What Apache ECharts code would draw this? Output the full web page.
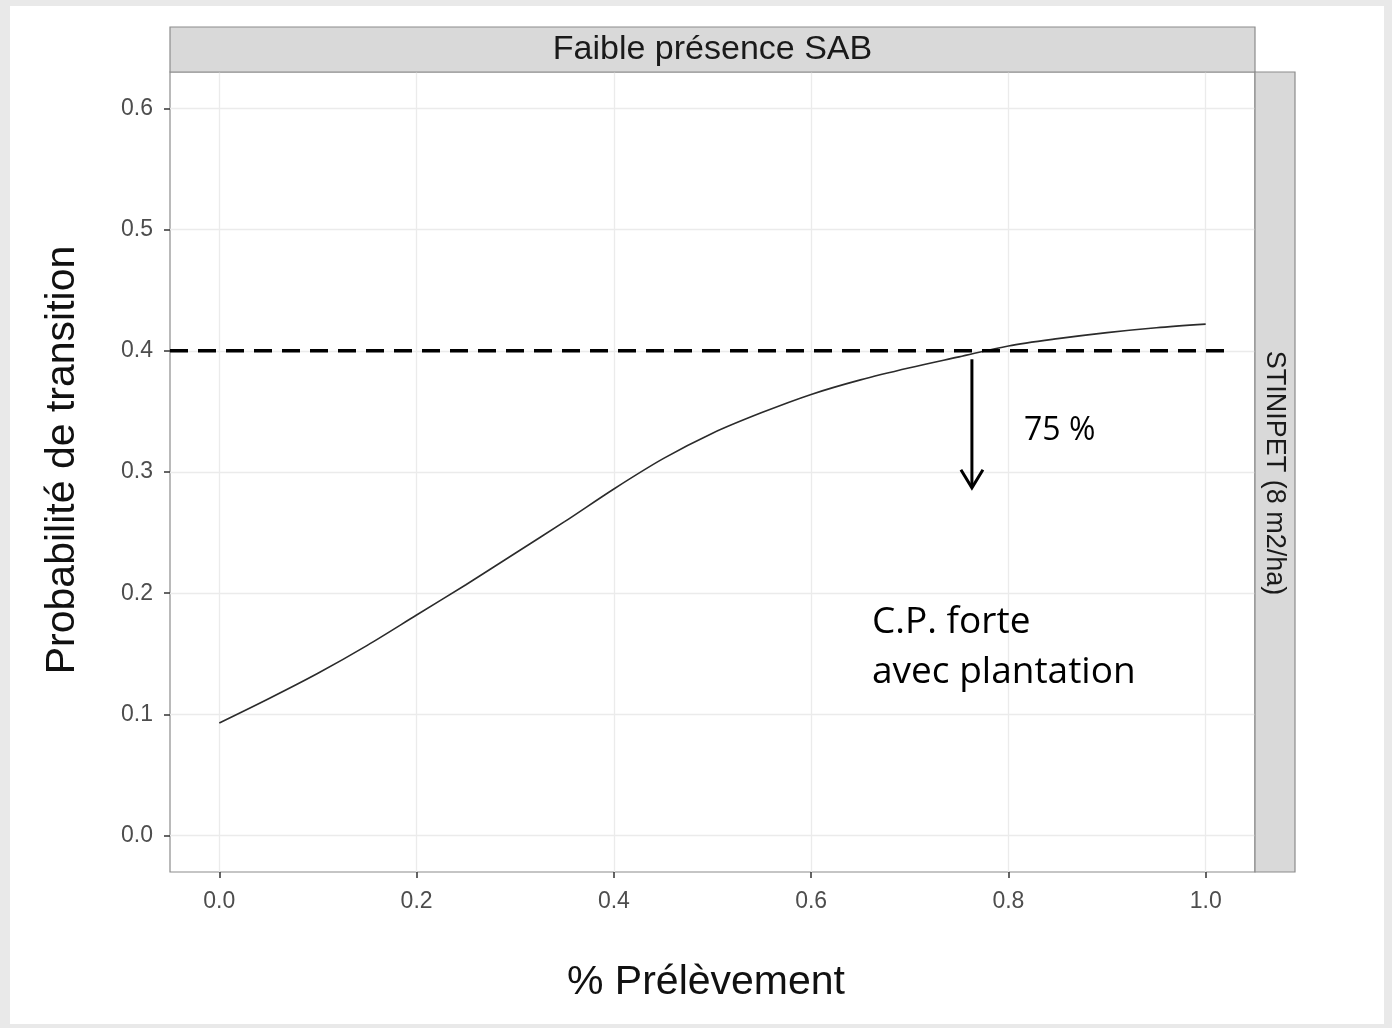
<!DOCTYPE html>
<html>
<head>
<meta charset="utf-8">
<title>Faible présence SAB</title>
<script src="https://cdn.jsdelivr.net/npm/echarts@6/dist/echarts.min.js"></script>
<style>
  html, body { margin: 0; padding: 0; background: #e9e9e9; }
  #chart { width: 1392px; height: 1028px; }
</style>
</head>
<body>
<div id="chart"></div>
<script>
// Harvest proportion (x) and modelled transition probability (y)
const harvestShare = [0.00, 0.05, 0.10, 0.15, 0.20, 0.25, 0.30, 0.35, 0.40, 0.45, 0.50,
                      0.55, 0.60, 0.65, 0.70, 0.75, 0.80, 0.85, 0.90, 0.95, 1.00];
const transitionProb = [0.093, 0.113, 0.134, 0.157, 0.182, 0.207, 0.233, 0.259, 0.286, 0.311, 0.332,
                        0.349, 0.364, 0.376, 0.386, 0.395, 0.404, 0.410, 0.415, 0.419, 0.422];

// Axis ticks
const xTickValues = [0.0, 0.2, 0.4, 0.6, 0.8, 1.0];
const yTickValues = [0.0, 0.1, 0.2, 0.3, 0.4, 0.5, 0.6];

// Threshold annotation
const thresholdLevel = 0.4;
const thresholdXRange = [-0.05, 1.019];
const crossingShare = 0.763;
const arrowFrom = 0.393;
const arrowTo = 0.287;

// Texts
const panelTitle = 'Faible présence SAB';
const rowTitle = 'STINIPET (8 m2/ha)';
const xTitle = '% Prélèvement';
const yTitle = 'Probabilité de transition';
const crossingLabel = '75 %';
const scenarioLabel = ['C.P. forte', 'avec plantation'];

const baseFont = 'Liberation Sans, Arial, sans-serif';
const noteFont = 'Open Sans, sans-serif';

const chart = echarts.init(document.getElementById('chart'));

const gridLeft = 170, gridTop = 72, gridW = 1085, gridH = 800;

chart.setOption({
  backgroundColor: '#e9e9e9',
  animation: false,
  grid: {
    left: gridLeft, top: gridTop, width: gridW, height: gridH,
    show: true, backgroundColor: '#ffffff',
    borderColor: '#8c8c8c', borderWidth: 1.2
  },
  xAxis: {
    type: 'value', min: -0.05, max: 1.05,
    axisLine: { show: false, onZero: false },
    splitLine: { show: false },
    axisTick: { show: true, customValues: xTickValues, length: 6, lineStyle: { color: '#333333', width: 1.5 } },
    axisLabel: {
      customValues: xTickValues, margin: 18,
      formatter: v => v.toFixed(1),
      color: '#4d4d4d', fontSize: 23, fontFamily: baseFont
    }
  },
  yAxis: {
    type: 'value', min: -0.03, max: 0.63,
    axisLine: { show: false, onZero: false },
    splitLine: { show: false },
    axisTick: { show: true, customValues: yTickValues, length: 6, lineStyle: { color: '#333333', width: 1.5 } },
    axisLabel: {
      customValues: yTickValues, margin: 17,
      formatter: v => v.toFixed(1),
      color: '#4d4d4d', fontSize: 23, fontFamily: baseFont
    }
  },
  graphic: [
    // page card
    { type: 'rect', z: -100, shape: { x: 10, y: 6, width: 1374, height: 1018 }, style: { fill: '#ffffff' } },
    // facet strips
    { type: 'rect', z: 10, shape: { x: gridLeft, y: 27, width: gridW, height: 45 },
      style: { fill: '#d9d9d9', stroke: '#8c8c8c', lineWidth: 1.2 } },
    { type: 'text', z: 11, x: gridLeft + gridW / 2, y: 50,
      style: { text: panelTitle, fill: '#1a1a1a', font: '34px ' + baseFont, align: 'center', verticalAlign: 'middle' } },
    { type: 'rect', z: 10, shape: { x: gridLeft + gridW, y: gridTop, width: 40, height: gridH },
      style: { fill: '#d9d9d9', stroke: '#8c8c8c', lineWidth: 1.2 } },
    { type: 'text', z: 11, x: gridLeft + gridW + 19, y: 473, rotation: -Math.PI / 2,
      style: { text: rowTitle, fill: '#1a1a1a', font: '27px ' + baseFont, align: 'center', verticalAlign: 'middle' } },
    // axis titles
    { type: 'text', z: 11, x: 706, y: 983,
      style: { text: xTitle, fill: '#111111', font: '41px ' + baseFont, align: 'center', verticalAlign: 'middle' } },
    { type: 'text', z: 11, x: 63, y: 460, rotation: Math.PI / 2,
      style: { text: yTitle, fill: '#111111', font: '41px ' + baseFont, align: 'center', verticalAlign: 'middle' } },
    // annotations
    { type: 'text', z: 11, x: 1024, y: 431,
      style: { text: crossingLabel, fill: '#000000', font: '32px ' + noteFont, align: 'left', verticalAlign: 'middle' } },
    { type: 'text', z: 11, x: 872, y: 622,
      style: { text: scenarioLabel[0], fill: '#000000', font: '37px ' + noteFont, align: 'left', verticalAlign: 'middle' } },
    { type: 'text', z: 11, x: 872, y: 672,
      style: { text: scenarioLabel[1], fill: '#000000', font: '37px ' + noteFont, align: 'left', verticalAlign: 'middle' } }
  ],
  series: [
    {
      // panel gridlines
      type: 'line', data: [], z: 1, silent: true,
      markLine: {
        z: 1, silent: true, symbol: 'none', label: { show: false },
        lineStyle: { color: '#ebebeb', width: 1.3, type: 'solid' },
        data: xTickValues.map(v => ({ xAxis: v })).concat(yTickValues.map(v => ({ yAxis: v })))
      }
    },
    {
      type: 'line', z: 3,
      data: harvestShare.map((x, i) => [x, transitionProb[i]]),
      showSymbol: false, smooth: 0.3,
      lineStyle: { color: '#2b2b2b', width: 1.6 }
    },
    {
      type: 'line', z: 4,
      data: thresholdXRange.map(x => [x, thresholdLevel]),
      showSymbol: false,
      lineStyle: { color: '#000000', width: 3.5, type: [18, 10] }
    },
    {
      type: 'custom', z: 5,
      data: [[crossingShare, arrowFrom, arrowTo]],
      renderItem: function (params, api) {
        const p0 = api.coord([api.value(0), api.value(1)]);
        const p1 = api.coord([api.value(0), api.value(2)]);
        return {
          type: 'group',
          children: [
            { type: 'line', shape: { x1: p0[0], y1: p0[1], x2: p1[0], y2: p1[1] - 1 },
              style: { stroke: '#000000', lineWidth: 3 } },
            { type: 'polyline',
              shape: { points: [[p1[0] - 11, p1[1] - 18], [p1[0], p1[1]], [p1[0] + 11, p1[1] - 18]] },
              style: { stroke: '#000000', lineWidth: 3, fill: null } }
          ]
        };
      }
    }
  ]
});
</script>
</body>
</html>
